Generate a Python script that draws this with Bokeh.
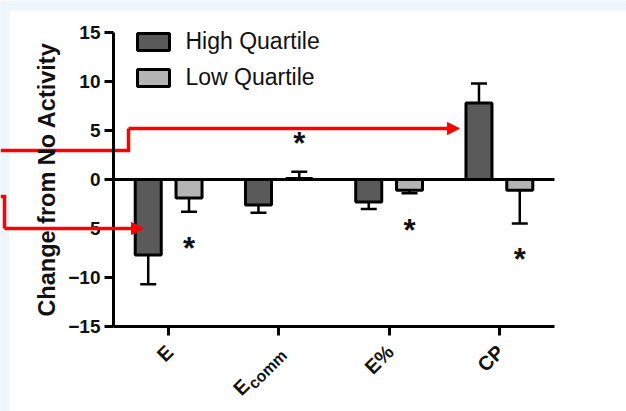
import math
from bokeh.plotting import figure
from bokeh.models import (Range1d, LinearAxis, FixedTicker, Whisker, TeeHead,
                          ColumnDataSource, Arrow, NormalHead)
from bokeh.core.properties import value
from bokeh.embed import file_html
from bokeh.resources import INLINE

# ---------------- data ----------------
categories = ["E", "Ecomm", "E%", "CP"]
label_main = ["E", "E", "E%", "CP"]
label_sub = ["", "comm", "", ""]
series_names = ["High Quartile", "Low Quartile"]
high_values = [-7.7, -2.6, -2.3, 7.8]
high_errors = [3.0, 0.8, 0.7, 2.0]
low_values = [-1.9, 0.1, -1.1, -1.1]
low_errors = [1.4, 0.7, 0.3, 3.4]
star_values = [-6.6, 4.05, -4.8, -7.8]
y_ticks = [-15, -10, -5, 0, 5, 10, 15]

# ---------------- layout ----------------
W, H = 626, 411
PX_X = 110.25          # px per category
X0 = 113               # px of category axis origin
PX_Y = 9.8             # px per y unit
Y0 = 179               # px of y = 0
x_rng = Range1d(-X0 / PX_X, (W - X0) / PX_X)
y_rng = Range1d((Y0 - H) / PX_Y, Y0 / PX_Y)


def dx(px):
    return (px - X0) / PX_X


def dy(py):
    return (Y0 - py) / PX_Y


FONT = "Liberation Sans"
INK = "#111111"
HIGH_COLOR = "#5a5a5a"
LOW_COLOR = "#b4b4b4"
PAGE_BLUE = "#eef6fd"
OFF = 0.185
BAR_W = 0.236

p = figure(width=W, height=H, x_range=x_rng, y_range=y_rng,
           output_backend="svg", toolbar_location=None, min_border=0,
           x_axis_location=None, y_axis_location=None)
p.grid.visible = False
p.outline_line_color = None
p.background_fill_color = PAGE_BLUE
p.border_fill_color = PAGE_BLUE

# white slide area (light blue page strip along the top and left edges)
p.quad(left=[dx(9)], right=[x_rng.end], bottom=[y_rng.start], top=[dy(10)],
       fill_color="white", line_color=None)

n = len(categories)
centers = [i + 0.5 for i in range(n)]

# y axis
yaxis = LinearAxis(fixed_location=0, bounds=(-15, 15),
                   ticker=FixedTicker(ticks=y_ticks),
                   axis_label="Change from No Activity")
yaxis.axis_line_width = 3
yaxis.major_tick_line_width = 3
yaxis.major_tick_out = 9
yaxis.major_tick_in = 0
yaxis.minor_tick_line_color = None
yaxis.major_label_text_font = FONT
yaxis.major_label_text_font_style = "bold"
yaxis.major_label_text_font_size = "19px"
yaxis.major_label_text_color = INK
yaxis.major_label_standoff = 4
yaxis.axis_label_text_font = FONT
yaxis.axis_label_text_font_style = "bold"
yaxis.axis_label_text_font_size = "23.5px"
yaxis.axis_label_text_color = INK
yaxis.axis_label_standoff = 5
p.add_layout(yaxis, "left")

# x axis (category labels drawn as text below, for subscript support)
xaxis = LinearAxis(fixed_location=-15, bounds=(0, n),
                   ticker=FixedTicker(ticks=centers))
xaxis.axis_line_width = 3
xaxis.major_tick_line_width = 3
xaxis.major_tick_out = 9
xaxis.major_tick_in = 0
xaxis.minor_tick_line_color = None
xaxis.major_label_text_color = None
p.add_layout(xaxis, "below")

# bars
hx = [c - OFF for c in centers]
lx = [c + OFF for c in centers]
p.vbar(x=hx, top=high_values, bottom=0, width=BAR_W, fill_color=HIGH_COLOR,
       line_color="black", line_width=3, legend_label=series_names[0])
p.vbar(x=lx, top=low_values, bottom=0, width=BAR_W, fill_color=LOW_COLOR,
       line_color="black", line_width=3, legend_label=series_names[1])

# error bars (one-sided, away from zero)
pos = dict(base=[], lower=[], upper=[])
neg = dict(base=[], lower=[], upper=[])
for xs, vals, errs in ((hx, high_values, high_errors), (lx, low_values, low_errors)):
    for xv, v, e in zip(xs, vals, errs):
        if v >= 0:
            pos["base"].append(xv); pos["lower"].append(v); pos["upper"].append(v + e)
        else:
            neg["base"].append(xv); neg["lower"].append(v - e); neg["upper"].append(v)
p.add_layout(Whisker(base="base", lower="lower", upper="upper",
                     source=ColumnDataSource(pos), dimension="height",
                     line_width=2.5, line_color="black", level="annotation",
                     upper_head=TeeHead(size=16, line_width=2.5, line_color="black"),
                     lower_head=None))
p.add_layout(Whisker(base="base", lower="lower", upper="upper",
                     source=ColumnDataSource(neg), dimension="height",
                     line_width=2.5, line_color="black", level="annotation",
                     lower_head=TeeHead(size=16, line_width=2.5, line_color="black"),
                     upper_head=None))

# zero line
p.segment(x0=[0], y0=[0], x1=[n], y1=[0], line_color="black", line_width=3)

# significance stars
p.text(x=lx, y=star_values, text=["*"] * n, text_align="center",
       text_baseline="middle", text_font=value(FONT), text_font_style="bold",
       text_font_size="31px", text_color=INK, y_offset=4)

# rotated category labels
ang = math.pi / 4
c45 = math.cos(ang)
AX, AY = 1, 22
SUB_W = 48
SUB_S = 4.3
main_xoff, main_yoff, sub_x, sub_t = [], [], [], []
for c, m, s in zip(centers, label_main, label_sub):
    if s:
        main_xoff.append(AX - c45 * SUB_W)
        main_yoff.append(AY + c45 * SUB_W)
        sub_x.append(c)
        sub_t.append(s)
    else:
        main_xoff.append(AX)
        main_yoff.append(AY)
p.text(x=centers, y=[-15] * n, text=label_main, angle=ang,
       x_offset=main_xoff, y_offset=main_yoff, text_align="right",
       text_baseline="middle", text_font=value(FONT), text_font_style="bold",
       text_font_size="20px", text_color=INK)
p.text(x=sub_x, y=[-15] * len(sub_x), text=sub_t, angle=ang,
       x_offset=AX + SUB_S, y_offset=AY + SUB_S, text_align="right",
       text_baseline="middle", text_font=value(FONT), text_font_style="bold",
       text_font_size="16px", text_color=INK)

# red call-out arrows
RED = "#ff0000"
cp_left = centers[3] - OFF - BAR_W / 2
e_left = centers[0] - OFF - BAR_W / 2
p.line(x=[x_rng.start, dx(128), dx(128)], y=[dy(150), dy(150), dy(128)],
       line_color=RED, line_width=3.5, line_join="miter")
p.add_layout(Arrow(end=NormalHead(size=12, fill_color=RED, line_color=RED),
                   x_start=dx(128), y_start=dy(128), x_end=cp_left - 0.06, y_end=dy(128),
                   line_color=RED, line_width=3.5))
p.line(x=[x_rng.start, dx(4), dx(4)], y=[dy(196), dy(196), dy(228)],
       line_color=RED, line_width=3.5, line_join="miter")
p.add_layout(Arrow(end=NormalHead(size=12, fill_color=RED, line_color=RED),
                   x_start=dx(4), y_start=dy(228), x_end=e_left + 0.075, y_end=dy(228),
                   line_color=RED, line_width=3.5))

# legend
lg = p.legend[0]
lg.location = (132.5, 319.6)
lg.glyph_width = 40
lg.glyph_height = 21
lg.label_height = 26
lg.spacing = 9
lg.padding = 0
lg.margin = 0
lg.label_standoff = 13
lg.border_line_color = None
lg.background_fill_alpha = 0
lg.label_text_font = FONT
lg.label_text_font_size = "23px"
lg.label_text_color = INK

open("out.html", "w").write(file_html(p, INLINE))
